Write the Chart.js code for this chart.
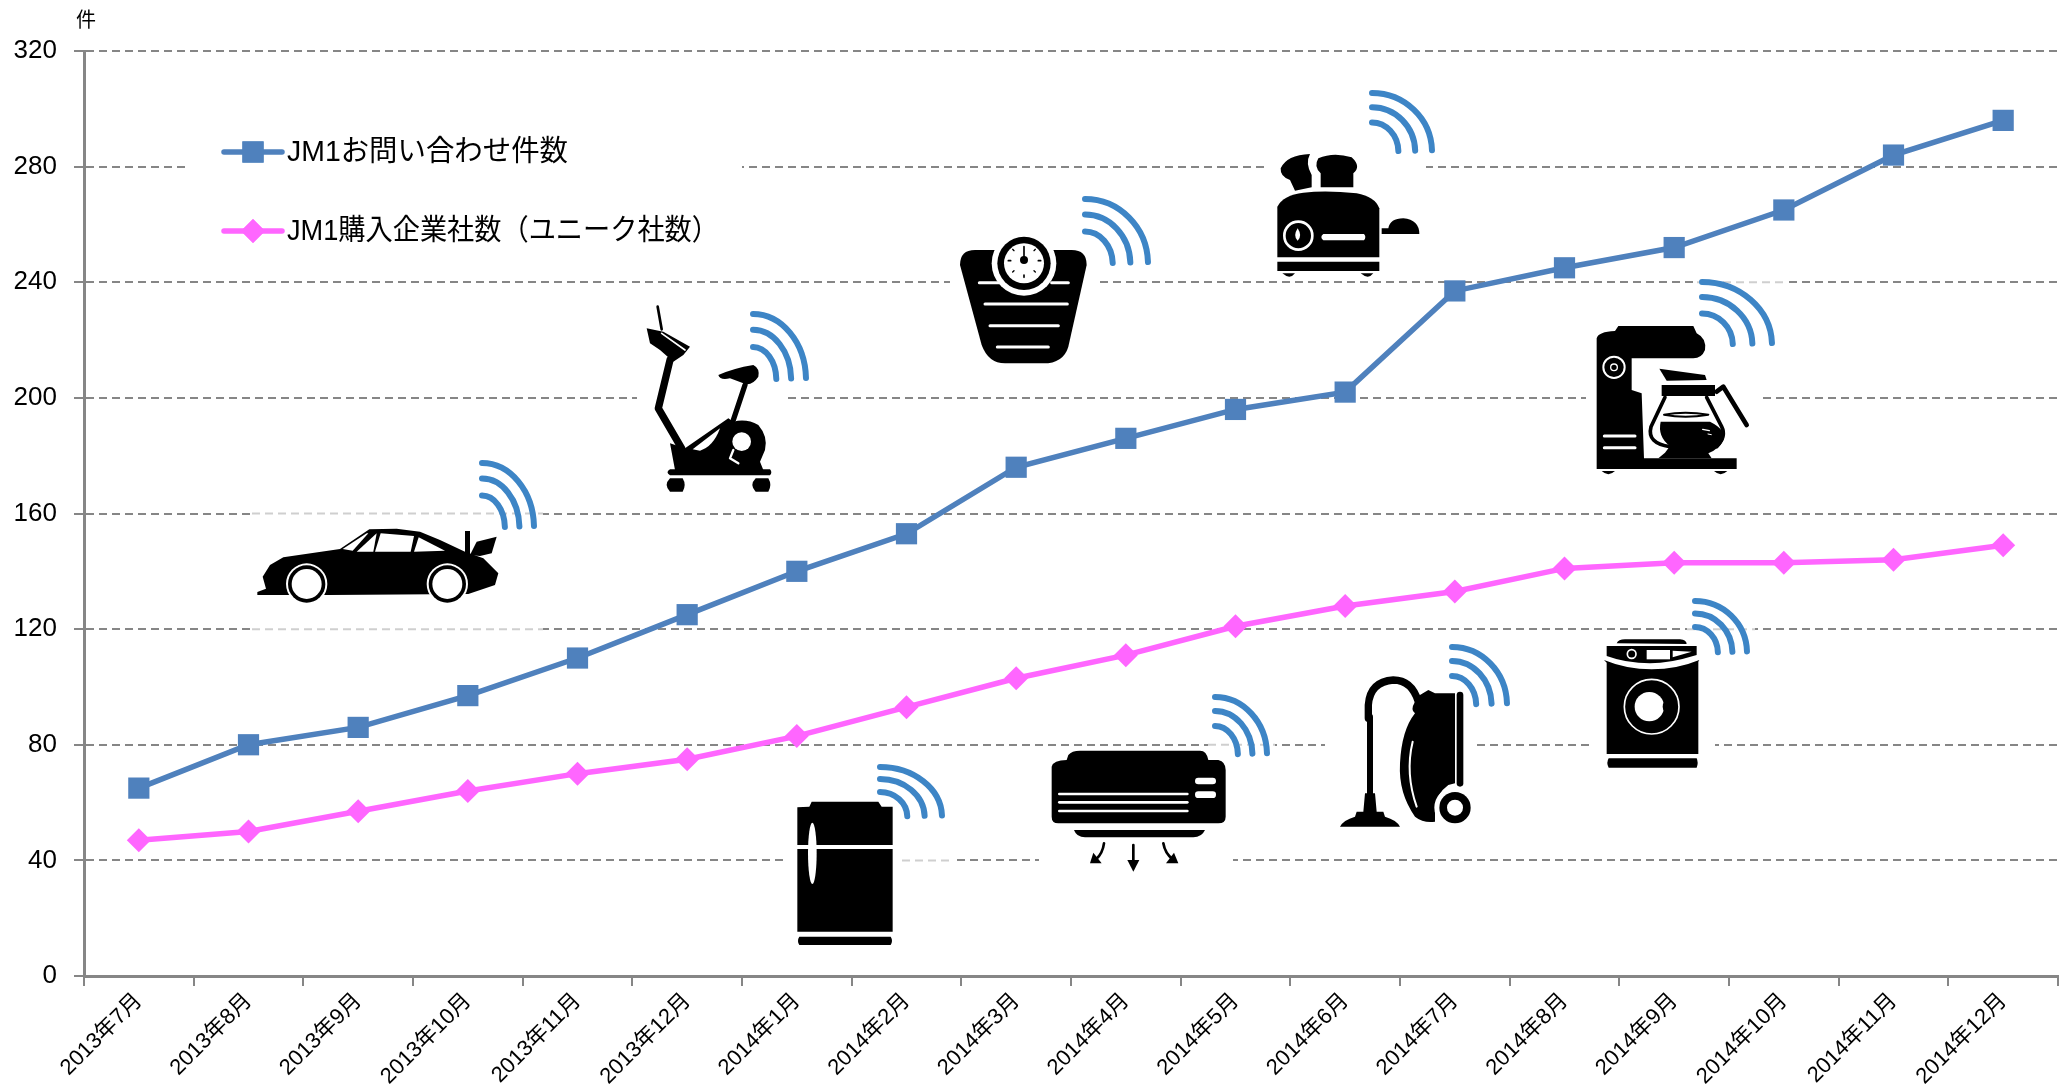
<!DOCTYPE html>
<html><head><meta charset="utf-8">
<style>html,body{margin:0;padding:0;background:#fff}canvas{display:block}</style>
<script src="https://cdn.jsdelivr.net/npm/chart.js@4"></script></head>
<body><canvas id="c" width="2067" height="1091" style="width:2067px;height:1091px"></canvas>
<script>
const categories=["2013年7月","2013年8月","2013年9月","2013年10月","2013年11月","2013年12月","2014年1月","2014年2月","2014年3月","2014年4月","2014年5月","2014年6月","2014年7月","2014年8月","2014年9月","2014年10月","2014年11月","2014年12月"];
const inquiries=[65,80,86,97,110,125,140,153,176,186,196,202,237,245,252,265,284,296];
const companies=[47,50,57,64,70,75,83,93,103,111,121,128,133,141,143,143,144,149];
const seriesNames=["JM1お問い合わせ件数","JM1購入企業社数（ユニーク社数）"];
const unitLabel="件";
const BLUE="#4F81BD",PINK="#FF66FF",AXIS="#868686",WIFI="#3D85C6";
const LATIN='"Liberation Sans","Noto Sans CJK JP",sans-serif';

// decorative picture patches: white backing, optional faint grid showing through
const patches=[
 {r:[252,440,543,690],faint:1,poly:[[252,440],[543,440],[543,663],[480,684],[252,690]]},
 {r:[189,140,742,180]},
 {r:[637,300,787,500]},{r:[745,298,815,395]},
 {r:[950,190,1095,370]},{r:[1075,190,1160,278]},
 {r:[1268,100,1426,278]},{r:[1360,85,1426,168]},
 {r:[1586,300,1758,480]},{r:[1697,272,1785,358],faint:1},
 {r:[783,755,902,950]},{r:[902,755,952,950],faint:1},
 {r:[1039,750,1233,900]},{r:[1208,688,1275,767],faint:1},
 {r:[1325,670,1474,835]},{r:[1445,635,1515,720]},
 {r:[1592,640,1715,775]},{r:[1687,593,1755,665],faint:1}
];
const wifis=[[482,528,52,65],[753,380,53,66],[1085,264,63,65],[1372,152,60,59],[1702,345,70,63],[880,817,62,50],[1215,755,52,58],[1452,705,55,58],[1695,653,52,52]];

// silhouettes, in 3x local units from an origin [ox,oy]. b=black fill, w=white fill, k=[width,path] black stroke, s=[width,path] white stroke
const icons=[
{o:[220,430],b:["M112 495L112 486L138 476L128 440L150 405L190 382L360 357L448 298L530 296L600 305L660 330L735 365L790 385L835 430L825 465L745 492L330 495L190 495Z","M735 303L750 303L750 375L735 375Z","M750 375L770 335L830 320L815 370L780 378Z"],
 w:["M368 357L440 310L445 310L398 362Z","M410 365L470 310L460 365Z","M465 365L482 310L582 318L572 365Z","M582 365L596 322L675 362Z"],
 c:[[260,462,62,"w"],[682,462,62,"w"],[260,462,56,"b"],[682,462,56,"b"],[260,462,45,"w"],[682,462,45,"w"]]},
{o:[620,290],k:[[8,"M113 50L125 118"],[22,"M150 210L115 355L185 475"],[16,"M375 285L340 390"]],
 b:["M80 115L130 125L210 170L190 195L160 215L120 180L90 160Z","M295 255Q340 235 400 225Q420 235 415 260Q395 290 370 280L330 265Q300 272 295 255Z","M150 460L195 475L325 385L340 395Q380 385 415 405Q445 440 435 480L420 515L430 540L165 540Z","M150 538L450 538Q458 547 450 556L150 556Q135 547 150 538Z","M150 565L188 565Q200 585 188 605L150 605Q130 585 150 565Z","M407 565L445 565Q457 585 445 605L407 605Q387 585 407 565Z"],
 w:["M218 478L300 415Q280 470 240 482Z"],s:[[5,"M125 130L195 180"],[7,"M340 480L330 505L355 520"]],c:[[365,455,28,"w"]]},
{o:[940,190],b:["M60 225Q60 180 105 180L395 180Q440 180 440 225L385 470Q370 520 310 520L195 520Q145 520 125 465Z"],
 c:[[252,220,97,"w"],[252,220,80,"b"],[252,220,60,"w"],[252,210,12,"b"]],
 s:[[9,"M118 278L180 278"],[9,"M335 278L385 278"],[9,"M135 342L382 342"],[9,"M150 407L355 407"],[9,"M172 471L325 471"]],
 k:[[5,"M252 170L252 210"],[5,"M205 212L212 212"],[5,"M295 212L302 212"],[5,"M252 255L252 262"],[4,"M218 178L222 182"],[4,"M286 178L282 182"],[4,"M218 246L222 242"],[4,"M286 246L282 242"]]},
{o:[1260,80],b:["M105 332L90 300Q60 290 62 265Q80 225 150 222Q135 250 155 285L155 322Z","M182 322L182 280Q160 260 175 235Q220 215 275 232Q305 260 280 280L280 322Z","M52 380Q70 345 130 338Q200 330 290 340Q345 350 358 385L358 532L52 532Z","M52 545L358 545L358 573L52 573Z","M67 580L105 580Q90 600 67 580Z","M302 580L340 580Q325 600 302 580Z","M365 445L385 445Q390 415 430 415Q478 420 478 462L365 462Z"],
 w:["M190 462L312 462Q320 471 312 481L190 481Q178 471 190 462Z","M113 445Q128 468 113 482Q98 468 113 445Z"],ring:[[115,467,42,8]]},
{o:[1570,270],b:["M80 205Q85 185 135 183L145 168L370 168L380 190Q410 205 405 240Q395 265 370 265L185 265L185 360L215 370L222 565L500 565L500 597L80 597Z","M95 603L135 603Q115 622 95 603Z","M432 603L472 603Q452 622 432 603Z","M268 296L405 315L410 330L290 332Z","M275 345L435 345L435 378L275 378Z","M272 455L420 455Q470 480 460 510Q450 535 415 550L425 565L265 565L285 548L300 528Q262 500 272 455Z"],
 k:[[14,"M440 365L460 350L530 465"],[11,"M285 382L243 470Q230 520 300 530"],[11,"M410 382L455 470Q470 500 440 530"],[6,"M282 434Q345 422 415 434Q345 446 282 434"]],
 s:[[9,"M103 498L195 498"],[9,"M103 533L195 533"],[4,"M398 478L418 482"],[3,"M414 492L424 494"]],ring:[[132,292,32,6],[132,292,10,4]]},
{o:[770,750],b:["M82 172L118 170L125 155L325 155L335 170L368 170L368 285L82 285Z","M82 297L368 297L368 545L82 545Z","M88 560L362 560Q370 572 362 585L88 585Q80 572 88 560Z"],
 e:[[127,310,13,92]]},
{o:[1030,680],b:["M65 260Q70 240 110 240L115 225Q125 212 150 212L510 212Q530 212 535 240L565 240Q587 245 587 270L587 410Q587 430 565 430L85 430Q65 430 65 410Z","M132 450L525 450Q515 472 490 472L165 472Q140 472 132 450Z","M292 540L328 540L310 575Z","M180 550L215 550L190 518Z","M445 550L408 550L432 518Z"],
 k:[[8,"M310 495L310 545"],[8,"M222 490Q218 520 198 538"],[8,"M400 490Q405 520 428 538"]],
 s:[[8,"M88 342L472 342"],[8,"M88 367L472 367"],[8,"M88 393L472 393"],[20,"M505 303L548 303"],[20,"M505 344L548 344"]]},
{o:[1320,630],k:[[22,"M145 265L145 225Q150 155 220 150Q275 150 295 215"],[18,"M150 260L150 490"],[20,"M420 195L420 460"]],
 b:["M60 590Q70 570 105 560L110 545L130 545L135 490L165 490L170 545L190 545L195 560Q230 570 240 590Z","M300 195L325 180L345 190L405 190L405 460L385 465Q350 490 345 535L345 575Q310 580 285 560Q235 490 240 400Q245 300 285 250Q270 240 285 215Z"],
 s:[[6,"M278 335Q255 430 290 530"]],c:[[405,533,62,"w"],[405,533,47,"b"],[405,533,24,"w"]]},
{o:[1580,580],b:["M110 190Q115 178 135 178L300 178Q320 180 320 192Z","M80 198L350 198L350 225Q270 250 210 250Q140 250 80 228Z","M72 240Q140 268 215 268Q290 268 358 240L355 245L355 522L80 522L80 248Z","M86 535L350 535Q356 548 350 563L86 563Q78 548 86 535Z"],
 w:["M200 210L270 210L270 238L200 238Z","M278 212L335 215L278 232Z"],ring:[[215,380,82,5],[155,222,13,5]],
 c:[[208,380,44,"w"],[272,380,24,"b"]]}
];

function strokeP(ctx,list,col){ctx.strokeStyle=col;ctx.lineCap='round';ctx.lineJoin='round';
 (list||[]).forEach(([w,d])=>{ctx.lineWidth=w;ctx.stroke(new Path2D(d));});}
function fillP(ctx,list,col){ctx.fillStyle=col;(list||[]).forEach(d=>ctx.fill(new Path2D(d)));}

const decor={id:'decor',
 afterDatasetsDraw(chart){
  const ctx=chart.ctx,y=chart.scales.y;
  ctx.save();
  ctx.fillStyle='#fff';
  patches.forEach(p=>{const[a,b,c,d]=p.r;
   if(p.poly){ctx.beginPath();p.poly.forEach(([px,py],i)=>i?ctx.lineTo(px,py):ctx.moveTo(px,py));ctx.closePath();ctx.fill();}
   else ctx.fillRect(a,b,c-a,d-b);});
  patches.filter(p=>p.faint).forEach(p=>{const[a,b,c,d]=p.r;
   y.ticks.forEach(t=>{const py=y.getPixelForValue(t.value);
    if(py>b&&py<d){ctx.save();ctx.strokeStyle='#cfcfcf';ctx.lineWidth=2;ctx.setLineDash([8,5]);
     ctx.beginPath();ctx.moveTo(a,py);ctx.lineTo(c,py);ctx.stroke();ctx.restore();}});});
  ctx.filter='blur(0.5px)';
  wifis.forEach(([x,yy,rx,ry])=>{ctx.strokeStyle=WIFI;ctx.lineWidth=6;ctx.lineCap='round';
   [[1,1],[.72,.76],[.44,.5]].forEach(([fx,fy])=>{ctx.beginPath();ctx.ellipse(x,yy,rx*fx,ry*fy,0,-Math.PI/2,-0.03);ctx.stroke();});});
  icons.forEach(ic=>{
   ctx.save();ctx.translate(ic.o[0],ic.o[1]);ctx.scale(1/3,1/3);
   fillP(ctx,ic.b,'#000');
   (ic.c||[]).forEach(([x,yy,r,k])=>{ctx.fillStyle=k==='w'?'#fff':'#000';ctx.beginPath();ctx.arc(x,yy,r,0,Math.PI*2);ctx.fill();});
   strokeP(ctx,ic.k,'#000');
   fillP(ctx,ic.w,'#fff');
   strokeP(ctx,ic.s,'#fff');
   (ic.ring||[]).forEach(([x,yy,r,w])=>{ctx.strokeStyle='#fff';ctx.lineWidth=w;ctx.beginPath();ctx.arc(x,yy,r,0,Math.PI*2);ctx.stroke();});
   (ic.e||[]).forEach(([x,yy,rx,ry])=>{ctx.fillStyle='#fff';ctx.beginPath();ctx.ellipse(x,yy,rx,ry,0,0,Math.PI*2);ctx.fill();});
   ctx.restore();
  });
  ctx.filter='none';
  // legend
  const rows=[[152,281],[231,432]];
  chart.data.datasets.forEach((ds,i)=>{
   const ly=rows[i][0];
   ctx.strokeStyle=ds.borderColor;ctx.lineWidth=ds.borderWidth;ctx.lineCap='round';
   ctx.beginPath();ctx.moveTo(224,ly);ctx.lineTo(282,ly);ctx.stroke();
   ctx.fillStyle=ds.borderColor;ctx.beginPath();
   Chart.helpers.drawPoint(ctx,{pointStyle:ds.pointStyle,radius:ds.pointRadius,borderWidth:0},253,ly);
   ctx.fill();
   ctx.fillStyle='#000';ctx.font='29px '+LATIN;ctx.textAlign='left';ctx.textBaseline='middle';
   ctx.fillText(ds.label,287,ly+1,rows[i][1]);
  });
  ctx.font='20px "Noto Sans CJK JP"';ctx.fillStyle='#000';ctx.textAlign='center';ctx.textBaseline='middle';
  ctx.fillText(unitLabel,86,19);
  ctx.restore();
 }};

new Chart(document.getElementById('c'),{
 type:'line',
 data:{labels:categories,datasets:[
  {label:seriesNames[0],data:inquiries,borderColor:BLUE,backgroundColor:BLUE,borderWidth:5.5,pointStyle:'rect',pointRadius:15,pointBorderWidth:0,tension:0,order:2},
  {label:seriesNames[1],data:companies,borderColor:PINK,backgroundColor:PINK,borderWidth:5.5,pointStyle:'rectRot',pointRadius:12,pointBorderWidth:0,tension:0,order:1}
 ]},
 plugins:[decor],
 options:{responsive:false,animation:false,devicePixelRatio:1,
  layout:{autoPadding:false,padding:{top:51,right:9,left:0,bottom:0}},
  plugins:{legend:{display:false},tooltip:{enabled:false},title:{display:false}},
  scales:{
   x:{type:'category',offset:true,
    afterFit(s){s.height=115;s.paddingLeft=0;s.paddingRight=0;},
    border:{color:AXIS,width:3},
    grid:{offset:true,drawOnChartArea:false,drawTicks:true,tickLength:10,color:AXIS,lineWidth:2},
    ticks:{color:'#000',font:{size:22,family:LATIN},minRotation:45,maxRotation:45,autoSkip:false,padding:2}},
   y:{min:0,max:320,
    afterFit(s){s.width=84;},
    border:{color:AXIS,width:3,dash:[8,5]},
    grid:{color:AXIS,lineWidth:2,tickLength:10,tickColor:AXIS},
    ticks:{stepSize:40,color:'#000',font:{size:26,family:LATIN},padding:17}}
  }}
});
</script></body></html>
